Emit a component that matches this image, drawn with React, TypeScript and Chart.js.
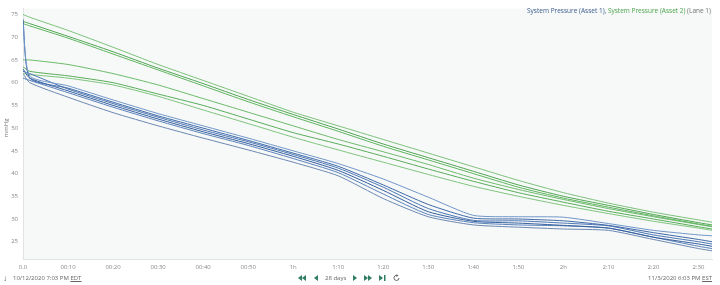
import React, { useEffect, useRef } from "react";
import { Chart, registerables } from "chart.js";

Chart.register(...registerables);

// minutes since start
const times = [0, 1.5, 10, 20, 30, 40, 50, 60, 70, 80, 90, 100, 110, 120, 130, 140, 150, 153];

const asset1A = [73, 61.5, 59.3, 56.2, 53.2, 50.5, 47.8, 45, 42.2, 38.8, 34.8, 30.8, 30.5, 30.4, 29, 27.5, 26.5, 26.3];
const asset1B = [74, 61, 58.8, 55.7, 52.7, 50, 47.3, 44.5, 41.6, 37.5, 33.2, 30.2, 30, 29.6, 28.6, 27, 25.5, 25];
const asset1C = [62.5, 62, 58.6, 55.4, 52.4, 49.6, 47, 44.2, 41.2, 37, 32.3, 29.7, 29.6, 29.1, 28.5, 26.5, 25, 24.5];
const asset1D = [63, 61, 58.2, 55, 52, 49.2, 46.6, 43.8, 40.7, 36.3, 31.6, 29.5, 29.1, 28.6, 28, 26, 24.5, 24];
const asset1E = [61, 60.5, 57.8, 54.6, 51.6, 48.8, 46.2, 43.3, 40.2, 35.5, 31, 29.2, 28.7, 28.5, 28, 26, 24, 23.5];
const asset1F = [62, 60, 56.8, 53.4, 50.5, 47.8, 45.2, 42.5, 39.5, 34.5, 30.5, 28.7, 28.2, 27.8, 27.5, 25.5, 23.5, 23];

const asset2A = [75, 74.4, 71.5, 67.8, 64, 60.5, 57, 53.5, 50.5, 47.5, 44.5, 41.5, 38.5, 35.8, 33.5, 31.5, 29.8, 29.3];
const asset2B = [73.5, 73, 70.2, 66.8, 63.2, 59.8, 56.3, 53, 49.8, 46.5, 43.5, 40.5, 37.5, 35, 33, 31, 29.2, 28.7];
const asset2C = [73, 72.5, 69.8, 66.3, 62.8, 59.3, 55.8, 52.5, 49.3, 46, 43, 40, 37, 34.6, 32.6, 30.7, 28.9, 28.4];
const asset2D = [65, 65, 64, 62, 59.5, 56.5, 53.5, 50.5, 47.5, 44.8, 42, 39, 36.5, 34.3, 32.3, 30.5, 28.8, 28.3];
const asset2E = [63.5, 62.5, 61.5, 60, 57.5, 55, 52, 49, 46.5, 43.8, 41, 38.3, 35.8, 33.7, 31.7, 30, 28.3, 27.8];
const asset2F = [62, 61.8, 61, 59.5, 57, 54, 51, 48, 45.2, 42.5, 39.8, 37.2, 35, 33, 31.2, 29.5, 28, 27.5];

const asset1Series = [asset1A, asset1B, asset1C, asset1D, asset1E, asset1F];
const asset2Series = [asset2A, asset2B, asset2C, asset2D, asset2E, asset2F];

const xTickValues = [0, 10, 20, 30, 40, 50, 60, 70, 80, 90, 100, 110, 120, 130, 140, 150];
const xTickLabels = ["0.0", "00:10", "00:20", "00:30", "00:40", "00:50", "1h", "1:10", "1:20", "1:30", "1:40", "1:50", "2h", "2:10", "2:20", "2:30"];
const yTickValues = [25, 30, 35, 40, 45, 50, 55, 60, 65, 70, 75];

const blueColors = ["#7097c9", "#3f6aa8", "#4b77b5", "#355f9e", "#5a82bb", "#6c88b2"];
const greenColors = ["#7cc27a", "#4fa552", "#5fb35f", "#6cbb6a", "#58ad59", "#7ec47c"];

const plotBg = {
  id: "plotBg",
  beforeDraw(chart: any) {
    const { ctx, chartArea } = chart;
    ctx.save();
    ctx.fillStyle = "#f7f8f8";
    ctx.fillRect(chartArea.left, chartArea.top, chartArea.right - chartArea.left, chartArea.bottom - chartArea.top);
    ctx.restore();
  },
};

const FONT = "'Open Sans', 'Noto Sans', sans-serif";

function Icon({ kind }: { kind: string }) {
  const c = "#2f7d66";
  const tri = (x: number, dir: number) =>
    dir > 0 ? `${x},1 ${x + 4},4 ${x},7` : `${x + 4},1 ${x},4 ${x + 4},7`;
  let content: any = null;
  let w = 6;
  if (kind === "ll") {
    w = 9;
    content = <><polygon points={tri(0, -1)} fill={c} /><polygon points={tri(4, -1)} fill={c} /></>;
  } else if (kind === "l") {
    content = <polygon points={tri(1, -1)} fill={c} />;
  } else if (kind === "r") {
    content = <polygon points={tri(1, 1)} fill={c} />;
  } else if (kind === "rr") {
    w = 9;
    content = <><polygon points={tri(0, 1)} fill={c} /><polygon points={tri(4, 1)} fill={c} /></>;
  } else if (kind === "re") {
    w = 8;
    content = <><polygon points={tri(0, 1)} fill={c} /><rect x={5} y={1} width={1.5} height={6} fill={c} /></>;
  } else if (kind === "refresh") {
    w = 8;
    content = <><path d="M6 4 A2.5 2.5 0 1 1 4 1.5" stroke="#666" strokeWidth={1} fill="none" /><polygon points="3.5,0 5.5,1.5 3.5,3" fill="#666" /></>;
  }
  return <svg width={w} height={8} style={{ display: "block" }}>{content}</svg>;
}

export default function App() {
  const ref = useRef<HTMLCanvasElement>(null);
  useEffect(() => {
    const datasets: any[] = [];
    asset1Series.forEach((s, i) => {
      datasets.push({
        label: "System Pressure (Asset 1)",
        data: times.map((t, j) => ({ x: t, y: s[j] })),
        borderColor: blueColors[i],
        borderWidth: 1,
        pointRadius: 0,
        tension: 0.2,
      });
    });
    asset2Series.forEach((s, i) => {
      datasets.push({
        label: "System Pressure (Asset 2)",
        data: times.map((t, j) => ({ x: t, y: s[j] })),
        borderColor: greenColors[i],
        borderWidth: 1,
        pointRadius: 0,
        tension: 0.2,
      });
    });
    const chart = new Chart(ref.current!, {
      type: "line",
      data: { datasets },
      options: {
        animation: false,
        responsive: false,
        maintainAspectRatio: false,
        layout: { padding: { left: 0, top: 7, right: 8, bottom: 13 } },
        plugins: { legend: { display: false }, tooltip: { enabled: false } },
        scales: {
          x: {
            type: "linear",
            position: "bottom",
            min: 0,
            max: 153,
            afterBuildTicks: (scale: any) => {
              scale.ticks = xTickValues.map((v) => ({ value: v }));
            },
            afterFit: (scale: any) => {
              scale.height = 13;
            },
            ticks: {
              autoSkip: false,
              maxRotation: 0,
              padding: 5,
              color: "#888",
              font: { family: FONT, size: 6 },
              callback: (_v: any, i: number) => xTickLabels[i],
            },
            grid: { display: false, drawTicks: false },
            border: { display: true, color: "#e2e4e4" },
          },
          y: {
            type: "linear",
            min: 21.2,
            max: 76.3,
            afterBuildTicks: (scale: any) => {
              scale.ticks = yTickValues.map((v) => ({ value: v }));
            },
            afterFit: (scale: any) => {
              scale.width = 23;
            },
            ticks: {
              padding: 5,
              color: "#888",
              font: { family: FONT, size: 6 },
            },
            grid: { display: false, drawTicks: false },
            border: { display: true, color: "#e2e4e4" },
          },
        },
      },
      plugins: [plotBg],
    } as any);
    return () => chart.destroy();
  }, []);

  const small: any = { fontFamily: FONT, fontSize: 6, color: "#666", whiteSpace: "nowrap", position: "absolute" };

  return (
    <div style={{ position: "fixed", left: 0, top: 0, width: 720, height: 285, background: "#fff", overflow: "hidden" }}>
      <canvas ref={ref} width={720} height={285} style={{ position: "absolute", left: 0, top: 0, width: 720, height: 285 }} />
      <div style={{ ...small, left: -9, top: 124, width: 30, height: 8, lineHeight: "8px", textAlign: "center", transform: "rotate(-90deg)", color: "#777" }}>mmHg</div>
      <div style={{ ...small, right: 9, top: 6, fontSize: 6.5 }}>
        <span style={{ color: "#3d5f8f" }}>System Pressure (Asset 1), </span>
        <span style={{ color: "#4ea84f" }}>System Pressure (Asset 2)</span>
        <span style={{ color: "#777" }}> (Lane 1)</span>
      </div>
      <div style={{ ...small, left: 3, top: 272, fontSize: 8, color: "#555" }}>&#8595;</div>
      <div style={{ ...small, left: 13, top: 274 }}>
        10/12/2020 7:03 PM <span style={{ textDecoration: "underline" }}>EDT</span>
      </div>
      <div style={{ position: "absolute", left: 298, top: 274, display: "flex", alignItems: "center", gap: 6 }}>
        <Icon kind="ll" />
        <Icon kind="l" />
        <span style={{ fontFamily: FONT, fontSize: 6, color: "#666", whiteSpace: "nowrap" }}>28 days</span>
        <Icon kind="r" />
        <Icon kind="rr" />
        <Icon kind="re" />
        <Icon kind="refresh" />
      </div>
      <div style={{ ...small, right: 8, top: 274 }}>
        11/3/2020 6:03 PM <span style={{ textDecoration: "underline" }}>EST</span>
      </div>
    </div>
  );
}
